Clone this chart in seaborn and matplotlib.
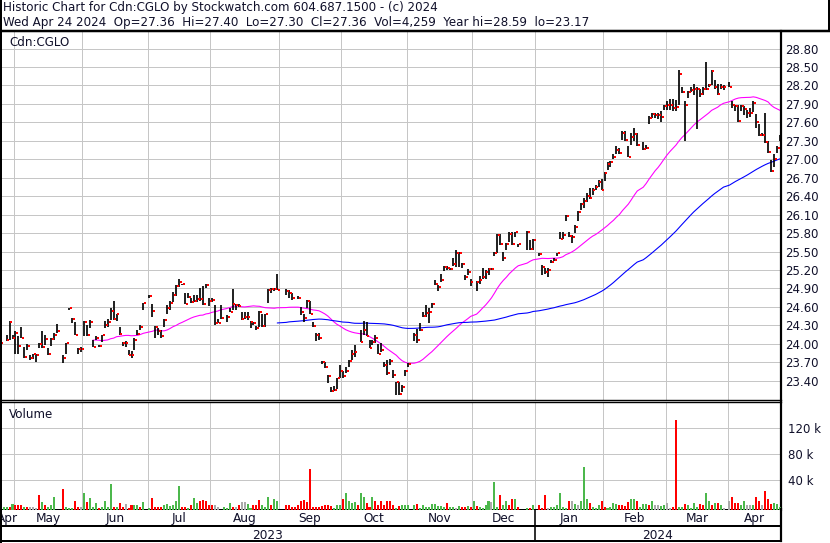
import numpy as np
import pandas as pd
import matplotlib
matplotlib.use("Agg")
import matplotlib.pyplot as plt
from matplotlib.lines import Line2D
import seaborn as sns

nan = float("nan")

# ---------------- data ----------------
start_date = "2023-04-24"
end_date = "2024-04-24"

high = [
    24.22, nan, 24.14, 24.37, 24.15, 24.20, 24.12, 24.28, 23.95, 23.99,
    23.82, 23.84, 23.84, 24.01, 24.21, 24.14, 23.93, 24.10, 24.17, 24.32,
    nan, 23.82, 24.02, 24.59, 24.42, 24.36, 23.93, 23.95, 24.37, 24.31,
    24.39, 24.06, 24.12, 23.98, 24.15, 24.37, 24.41, 24.58, 24.70, 24.49,
    24.28, 24.03, 24.04, 23.90, 23.88, 24.09, 24.22, 24.31, 24.67, nan,
    24.80, 24.64, 24.29, 24.25, 24.22, 24.40, 24.63, 24.70, 24.85, 24.96,
    25.05, 24.98, 24.82, 24.82, 24.74, 24.79, 24.80, 24.91, 24.94, 24.97,
    24.74, 24.74, 24.63, 24.41, 24.63, nan, 24.46, 24.58, 24.89, 24.64,
    24.64, 24.52, 24.51, 24.52, 24.37, 24.36, 24.29, 24.53, 24.49, 24.49,
    24.89, 24.90, 24.91, 25.14, nan, nan, 24.89, 24.87, 24.82, nan,
    24.77, 24.60, 24.48, 24.71, 24.69, 24.36, 24.17, 24.17, 23.72, 23.71,
    23.49, 23.29, 23.32, 23.45, 23.66, 23.56, 23.63, 23.74, 23.90, 23.98,
    nan, 24.22, 24.37, 24.36, 24.06, 24.06, 24.14, 23.99, 24.01, 23.71,
    23.74, 23.75, 23.57, 23.38, 23.38, 23.33, 23.57, 23.69, nan, 24.18,
    24.24, 24.33, 24.52, 24.63, 24.58, 24.66, 25.03, 24.96, 25.13, 25.26,
    25.26, 25.24, 25.39, 25.53, 25.50, 25.31, 25.12, 25.21, 25.06, nan,
    25.02, 25.10, 25.23, 25.20, 25.24, 25.24, 25.50, 25.78, 25.78, 25.50,
    25.64, 25.82, 25.81, 25.82, 25.63, nan, nan, 25.84, 25.69, 25.70,
    nan, 25.48, 25.28, 25.23, 25.23, 25.36, 25.39, 25.48, 25.81, 25.81,
    26.09, 25.82, 25.77, 25.93, 26.16, 26.29, 26.37, 26.45, 26.53, 26.54,
    26.58, 26.66, 26.68, 26.80, 26.96, 26.97, 27.08, 27.22, 27.19, 27.46,
    27.46, 27.21, 27.42, 27.51, 27.42, nan, 27.28, 27.23, 27.71, 27.76,
    27.76, 27.75, 27.79, 27.89, 27.94, 27.98, 27.98, 27.96, 28.45, 28.18,
    27.94, 28.11, 28.17, 28.22, 28.18, 28.14, 28.18, 28.59, 28.23, 28.45,
    28.29, 28.22, 28.23, 28.21, nan, 28.25, 27.95, 27.89, 27.89, 27.89,
    27.86, 27.80, 27.84, 27.94, 27.73, 27.58, 27.42, 27.76, 27.29, 26.99,
    27.08, 27.22, 27.40,
]

low = [
    24.00, nan, 24.04, 24.06, 24.08, 23.84, 23.84, 24.09, 23.77, 23.90,
    23.74, 23.76, 23.70, 23.93, 23.93, 23.98, 23.82, 23.97, 24.06, 24.17,
    nan, 23.68, 23.83, 24.55, 24.33, 24.14, 23.84, 23.86, 24.12, 24.13,
    24.25, 23.94, 24.06, 23.95, 24.03, 24.26, 24.28, 24.39, 24.39, 24.37,
    24.14, 23.96, 23.94, 23.81, 23.77, 23.90, 24.14, 24.22, 24.55, nan,
    24.75, 24.44, 24.10, 24.14, 24.10, 24.27, 24.49, 24.55, 24.68, 24.77,
    24.93, 24.96, 24.64, 24.74, 24.67, 24.68, 24.68, 24.70, 24.63, 24.91,
    24.62, 24.68, 24.31, 24.33, 24.41, nan, 24.35, 24.51, 24.55, 24.55,
    24.60, 24.39, 24.41, 24.39, 24.25, 24.31, 24.22, 24.28, 24.28, 24.28,
    24.66, 24.82, 24.86, 24.87, nan, nan, 24.79, 24.74, 24.71, nan,
    24.73, 24.47, 24.35, 24.58, 24.48, 24.28, 24.05, 24.06, 23.67, 23.61,
    23.37, 23.22, 23.23, 23.27, 23.44, 23.44, 23.52, 23.63, 23.74, 23.79,
    nan, 24.03, 24.14, 24.12, 23.93, 23.98, 24.01, 23.83, 23.86, 23.63,
    23.49, 23.66, 23.44, 23.17, 23.17, 23.22, 23.48, 23.63, nan, 24.04,
    24.02, 24.21, 24.43, 24.44, 24.34, 24.58, 24.96, 24.86, 25.01, 25.19,
    25.20, 25.20, 25.26, 25.25, 25.25, 25.23, 25.04, 25.12, 24.94, nan,
    24.86, 24.98, 25.05, 25.06, 25.12, 25.20, 25.42, 25.47, 25.61, 25.34,
    25.53, 25.66, 25.61, 25.73, 25.58, nan, nan, 25.53, 25.53, 25.53,
    nan, 25.42, 25.12, 25.13, 25.08, 25.31, 25.34, 25.43, 25.70, 25.70,
    25.99, 25.73, 25.64, 25.80, 25.99, 26.18, 26.20, 26.30, 26.35, 26.42,
    26.50, 26.55, 26.50, 26.65, 26.83, 26.88, 27.00, 27.08, 27.08, 27.31,
    27.30, 27.03, 27.24, 27.30, 27.22, nan, 27.15, 27.17, 27.57, 27.67,
    27.67, 27.66, 27.61, 27.80, 27.80, 27.80, 27.79, 27.79, 27.88, 28.07,
    27.29, 27.99, 28.09, 28.05, 27.50, 28.02, 28.05, 28.13, 28.18, 28.21,
    28.15, 28.05, 28.14, 28.13, nan, 28.17, 27.84, 27.79, 27.61, 27.79,
    27.72, 27.67, 27.69, 27.77, 27.51, 27.38, 27.38, 27.26, 27.11, 26.80,
    26.88, 27.11, 27.30,
]

close = [
    24.01, nan, 24.06, 24.36, 24.10, 24.18, 23.97, 24.10, 23.79, 23.97,
    23.77, 23.83, 23.81, 23.99, 23.94, 24.08, 23.83, 24.08, 24.14, 24.21,
    nan, 23.77, 24.01, 24.58, 24.41, 24.15, 23.92, 23.92, 24.35, 24.14,
    24.35, 23.94, 24.09, 23.96, 24.14, 24.31, 24.35, 24.54, 24.40, 24.48,
    24.16, 24.02, 24.01, 23.82, 23.81, 24.06, 24.16, 24.27, 24.66, nan,
    24.78, 24.54, 24.27, 24.20, 24.13, 24.39, 24.58, 24.67, 24.79, 24.94,
    25.00, 24.97, 24.65, 24.76, 24.68, 24.70, 24.73, 24.73, 24.64, 24.96,
    24.70, 24.71, 24.33, 24.34, 24.42, nan, 24.44, 24.52, 24.64, 24.63,
    24.62, 24.40, 24.43, 24.44, 24.35, 24.34, 24.25, 24.51, 24.29, 24.48,
    24.87, 24.89, 24.89, 24.88, nan, nan, 24.86, 24.82, 24.74, nan,
    24.74, 24.51, 24.42, 24.69, 24.49, 24.29, 24.15, 24.10, 23.70, 23.63,
    23.48, 23.23, 23.25, 23.45, 23.55, 23.47, 23.56, 23.72, 23.83, 23.87,
    nan, 24.03, 24.22, 24.13, 23.93, 24.03, 24.09, 23.84, 23.90, 23.66,
    23.52, 23.72, 23.50, 23.38, 23.18, 23.30, 23.56, 23.67, nan, 24.14,
    24.06, 24.22, 24.45, 24.50, 24.51, 24.65, 24.98, 24.93, 25.04, 25.25,
    25.23, 25.22, 25.29, 25.48, 25.48, 25.29, 25.08, 25.17, 25.01, nan,
    25.00, 25.04, 25.08, 25.16, 25.22, 25.22, 25.47, 25.77, 25.63, 25.40,
    25.63, 25.78, 25.62, 25.81, 25.62, nan, nan, 25.82, 25.54, 25.68,
    nan, 25.46, 25.25, 25.17, 25.20, 25.33, 25.36, 25.47, 25.71, 25.77,
    26.08, 25.76, 25.74, 25.90, 26.14, 26.27, 26.32, 26.41, 26.37, 26.50,
    26.55, 26.63, 26.50, 26.77, 26.93, 26.95, 27.03, 27.15, 27.10, 27.43,
    27.31, 27.04, 27.37, 27.41, 27.24, nan, 27.16, 27.19, 27.67, 27.74,
    27.72, 27.72, 27.69, 27.87, 27.89, 27.88, 27.83, 27.85, 28.39, 28.09,
    27.89, 28.09, 28.13, 28.14, 28.15, 28.06, 28.14, 28.15, 28.21, 28.43,
    28.18, 28.06, 28.17, 28.18, nan, 28.18, 27.89, 27.86, 27.62, 27.87,
    27.82, 27.76, 27.76, 27.92, 27.61, 27.40, 27.40, 27.28, 27.12, 26.81,
    27.01, 27.19, 27.36,
]

# volume in thousands of shares
volume_k = [
    38.2, 3.6, 3.6, 4.6, 8.8, 6.2, 6.2, 6.2, 4.6, 3.6,
    3.6, 3.6, 2.6, 21.7, 11.4, 6.2, 4.6, 7.7, 20.1, 0,
    0, 31.0, 4.6, 2.6, 2.6, 13.9, 3.6, 4.6, 25.3, 11.4,
    17.5, 3.6, 9.8, 2.6, 3.6, 13.9, 4.6, 38.7, 4.6, 3.6,
    10.8, 3.6, 8.8, 2.1, 6.2, 7.7, 7.7, 3.6, 11.4, 0,
    2.1, 17.5, 4.6, 3.6, 3.6, 6.2, 8.8, 5.2, 6.2, 12.9,
    35.6, 3.6, 4.6, 2.6, 6.2, 17.5, 9.8, 12.9, 15.0, 13.9,
    6.2, 6.2, 7.7, 4.6, 0, 4.6, 2.6, 9.8, 3.6, 3.6,
    7.7, 11.4, 11.4, 8.8, 2.6, 7.2, 7.2, 15.0, 7.2, 3.6,
    20.1, 6.2, 16.5, 12.4, 0, 0, 7.7, 7.7, 3.6, 4.6,
    6.2, 12.4, 15.0, 11.4, 61.9, 3.6, 4.6, 3.6, 5.2, 6.2,
    7.7, 5.2, 2.6, 6.2, 6.2, 15.5, 26.3, 13.9, 9.8, 11.4,
    6.2, 26.3, 19.1, 10.8, 4.6, 18.6, 13.9, 6.2, 13.9, 6.2,
    12.4, 12.4, 6.2, 2.6, 5.2, 6.2, 6.2, 6.2, 0, 6.2,
    8.8, 2.6, 6.2, 4.6, 4.6, 8.8, 8.8, 5.7, 5.7, 4.6,
    10.3, 4.6, 4.6, 2.6, 5.7, 4.6, 3.6, 5.7, 3.6, 13.9,
    5.7, 3.6, 2.6, 6.2, 12.4, 11.4, 43.3, 4.6, 21.7, 6.2,
    13.9, 6.2, 15.5, 17.0, 4.6, 0, 0, 2.6, 2.6, 7.7,
    0, 6.2, 2.6, 23.2, 2.6, 3.6, 4.6, 7.7, 26.3, 4.6,
    2.6, 12.4, 13.9, 8.8, 6.2, 12.4, 65.0, 16.5, 10.8, 4.6,
    2.6, 6.2, 12.4, 4.6, 2.6, 4.6, 10.3, 8.8, 6.2, 7.2,
    5.2, 11.4, 17.0, 15.5, 12.4, 3.6, 8.8, 8.8, 6.2, 13.9,
    6.2, 7.2, 5.2, 7.2, 10.8, 2.6, 4.6, 137.8, 4.6, 4.6,
    8.8, 6.2, 2.6, 10.3, 4.6, 8.8, 6.2, 26.3, 12.4, 7.2,
    10.3, 10.3, 6.2, 2.6, 0, 12.4, 18.6, 10.8, 10.8, 7.2,
    12.4, 6.2, 6.2, 7.2, 18.6, 12.4, 6.2, 29.4, 15.5, 8.8,
    10.3, 8.8, 4.3,
]

# volume bar colour code: u = up day, d = down day, n = unchanged, - = no trade
volume_dir = [
    "n", "u", "u", "d", "u", "d", "d", "d", "u", "d",
    "n", "n", "n", "d", "u", "d", "u", "u", "u", "-",
    "-", "d", "u", "u", "u", "d", "d", "n", "u", "d",
    "u", "u", "u", "d", "u", "u", "u", "u", "d", "u",
    "d", "d", "n", "d", "d", "u", "u", "d", "u", "-",
    "u", "d", "d", "d", "d", "u", "u", "u", "u", "u",
    "u", "d", "d", "u", "d", "u", "u", "d", "d", "d",
    "d", "d", "n", "n", "-", "u", "u", "u", "d", "n",
    "d", "n", "n", "u", "u", "d", "d", "d", "u", "u",
    "u", "d", "u", "u", "-", "-", "d", "d", "d", "d",
    "d", "d", "d", "d", "d", "d", "d", "d", "d", "d",
    "d", "d", "u", "u", "u", "d", "u", "u", "u", "u",
    "d", "u", "u", "d", "d", "u", "d", "d", "d", "d",
    "d", "d", "d", "u", "d", "u", "u", "u", "-", "u",
    "d", "u", "u", "u", "u", "u", "u", "u", "u", "u",
    "d", "u", "u", "n", "u", "d", "d", "u", "d", "u",
    "d", "u", "u", "u", "u", "n", "u", "u", "d", "u",
    "u", "d", "d", "u", "d", "-", "-", "u", "d", "u",
    "-", "d", "d", "d", "n", "u", "u", "u", "u", "u",
    "u", "d", "n", "u", "n", "u", "u", "u", "d", "u",
    "u", "u", "d", "d", "u", "u", "u", "u", "d", "d",
    "d", "d", "u", "u", "d", "u", "u", "u", "d", "u",
    "n", "n", "u", "u", "n", "n", "d", "d", "u", "u",
    "d", "u", "u", "u", "u", "d", "d", "u", "u", "d",
    "u", "d", "u", "n", "-", "n", "d", "d", "d", "u",
    "u", "n", "n", "u", "d", "d", "n", "d", "d", "d",
    "u", "u", "u",
]

price_ticks = [23.40, 23.70, 24.00, 24.30, 24.60, 24.90, 25.20, 25.50, 25.80,
               26.10, 26.40, 26.70, 27.00, 27.30, 27.60, 27.90, 28.20, 28.50, 28.80]
volume_ticks_k = [40, 80, 120]
ma_fast, ma_slow = 30, 90

title_line1 = "Historic Chart for Cdn:CGLO by Stockwatch.com 604.687.1500 - (c) 2024"
title_line2 = ("Wed Apr 24 2024  Op=27.36  Hi=27.40  Lo=27.30  Cl=27.36  "
               "Vol=4,259  Year hi=28.59  lo=23.17")
symbol = "Cdn:CGLO"

# ---------------- figure ----------------
sns.set_theme(style="white")
plt.rcParams["font.family"] = ["DejaVu Sans"]

W, H = 830, 543
fig = plt.figure(figsize=(W / 100, H / 100), dpi=100)
fig.patch.set_facecolor("white")

TXT = "#10102a"
GRID = "#c6c6c6"
PX = 0.72  # points per pixel


def rect(x0, y0, x1, y1):
    return [x0 / W, 1 - y1 / H, (x1 - x0) / W, (y1 - y0) / H]


dates = pd.bdate_range(start_date, end_date)
n = len(dates)
idx = np.arange(n)
hi = np.array(high, dtype=float)
lo = np.array(low, dtype=float)
cl = np.array(close, dtype=float)
vol = np.array(volume_k, dtype=float)

# month boundaries (first weekday of each month) and label centres
month_id = dates.year * 12 + dates.month
starts = [i for i in range(1, n) if month_id[i] != month_id[i - 1]]
bounds = [s - 0.5 for s in starts]
x_left = (1 - 0.6) / 2.975
x_right = (781 - 0.6) / 2.975
edges = [x_left] + bounds + [x_right]
seg_first = [0] + starts
month_centres = [(edges[k] + edges[k + 1]) / 2 for k in range(len(edges) - 1)]
month_names = [dates[s].strftime("%b") for s in seg_first]
year_break = [b for b, s in zip(bounds, starts) if dates[s].month == 1][0]
year_names = [str(dates[0].year), str(dates[-1].year)]
year_centres = [(x_left + year_break) / 2, (year_break + x_right) / 2]

# ---------------- price panel ----------------
ax_p = fig.add_axes(rect(1, 31, 781, 400))
ax_p.set_xlim(x_left, x_right)
ax_p.set_ylim(23.086, 29.086)
ax_p.set_xticks(bounds)
ax_p.set_yticks(price_ticks)
ax_p.grid(True, color=GRID, lw=1.0 * PX)
ax_p.set_axisbelow(True)
ax_p.tick_params(axis="x", length=0, labelbottom=False)
ax_p.yaxis.tick_right()
ax_p.tick_params(axis="y", length=0, pad=4.5 * PX, labelsize=8.5, labelcolor=TXT)
ax_p.set_yticklabels([f"{t:.2f}" for t in price_ticks])

m = ~np.isnan(cl)
ax_p.vlines(idx[m], lo[m], hi[m], color="black", lw=1.7 * PX, zorder=3)
ax_p.hlines(cl[m], idx[m] + 0.28, idx[m] + 0.95, color="#ff0000", lw=2.0 * PX, zorder=4)

valid = pd.Series(cl[m], index=idx[m])
ma1 = valid.rolling(ma_fast).mean().dropna()
ma2 = valid.rolling(ma_slow).mean().dropna()
sns.lineplot(x=ma1.index, y=ma1.values, ax=ax_p, color="#ff00ff", lw=1.1 * PX, zorder=2)
sns.lineplot(x=ma2.index, y=ma2.values, ax=ax_p, color="#0000ff", lw=1.1 * PX, zorder=2)
ax_p.set_xlabel("")
ax_p.set_ylabel("")

for side, sp in ax_p.spines.items():
    sp.set_color("black")
ax_p.spines["top"].set_visible(False)
ax_p.spines["left"].set_linewidth(2.0 * PX)
ax_p.spines["right"].set_linewidth(2.2 * PX)
ax_p.spines["bottom"].set_linewidth(1.4 * PX)
ax_p.text(8 / 779, 1 - 15 / 369, symbol, transform=ax_p.transAxes, fontsize=8.6,
          color=TXT, va="baseline", ha="left")

# ---------------- volume panel ----------------
v_lo, v_hi = -5.65, 160.7
ax_v = fig.add_axes(rect(1, 402, 781, 509.5))
ax_v.set_xlim(x_left, x_right)
ax_v.set_ylim(v_lo, v_hi)
ax_v.set_xticks(bounds)
ax_v.set_yticks(volume_ticks_k)
ax_v.grid(True, color=GRID, lw=1.0 * PX)
ax_v.set_axisbelow(True)
ax_v.tick_params(axis="x", length=0, labelbottom=False)
ax_v.yaxis.tick_right()
ax_v.tick_params(axis="y", length=0, pad=6.5 * PX, labelsize=8.5, labelcolor=TXT)
ax_v.set_yticklabels([f"{t} k" for t in volume_ticks_k])
col_map = {"u": "#4cb84c", "d": "#ff0000", "n": "#aaaaaa", "-": "none"}
vcols = [col_map[c] for c in volume_dir]
ax_v.bar(idx, vol, bottom=v_lo, width=0.68, color=vcols, linewidth=0, zorder=3)
for side, sp in ax_v.spines.items():
    sp.set_color("black")
ax_v.spines["top"].set_linewidth(1.4 * PX)
ax_v.spines["left"].set_linewidth(2.0 * PX)
ax_v.spines["right"].set_linewidth(2.2 * PX)
ax_v.spines["bottom"].set_linewidth(2.0 * PX)
ax_v.text(8 / 779, 1 - 16 / 107.5, "Volume", transform=ax_v.transAxes, fontsize=8.6,
          color=TXT, va="baseline", ha="left")

# ---------------- date rows ----------------
ax_d = fig.add_axes(rect(1, 509.5, 781, 541.2))
ax_d.set_xlim(x_left, x_right)
ax_d.set_ylim(541.2, 509.5)
ax_d.set_xticks([])
ax_d.set_yticks([])
ax_d.set_facecolor("white")
for side, sp in ax_d.spines.items():
    sp.set_color("black")
ax_d.spines["top"].set_visible(False)
ax_d.spines["left"].set_linewidth(2.0 * PX)
ax_d.spines["right"].set_linewidth(2.2 * PX)
ax_d.spines["bottom"].set_linewidth(2.0 * PX)
ax_d.axhline(526.5, color="black", lw=2.0 * PX)
ax_d.vlines([year_break], 509.5, 541.2, color="black", lw=1.6 * PX)
for xc, name in zip(month_centres, month_names):
    ax_d.text(xc, 522, name, ha="center", va="baseline", fontsize=8.7, color=TXT,
              clip_on=True)
for xc, name in zip(year_centres, year_names):
    ax_d.text(xc, 539, name, ha="center", va="baseline", fontsize=8.7, color=TXT,
              clip_on=True)

# ---------------- title box ----------------
fig.text(3 / W, 1 - 10.5 / H, title_line1, fontsize=8.6, color=TXT, va="baseline", ha="left")
fig.text(3 / W, 1 - 26 / H, title_line2, fontsize=8.6, color=TXT, va="baseline", ha="left")
fig.add_artist(Line2D([0, 1], [1 - 30.5 / H] * 2, color="black", lw=2.5 * PX,
                      transform=fig.transFigure))
fig.add_artist(Line2D([829 / W] * 2, [1 - 30.5 / H, 1], color="black", lw=2.0 * PX,
                      transform=fig.transFigure))
fig.add_artist(Line2D([1 / W] * 2, [0, 1], color="black", lw=2.0 * PX,
                      transform=fig.transFigure))

fig.savefig("out.png", dpi=100, facecolor="white")
